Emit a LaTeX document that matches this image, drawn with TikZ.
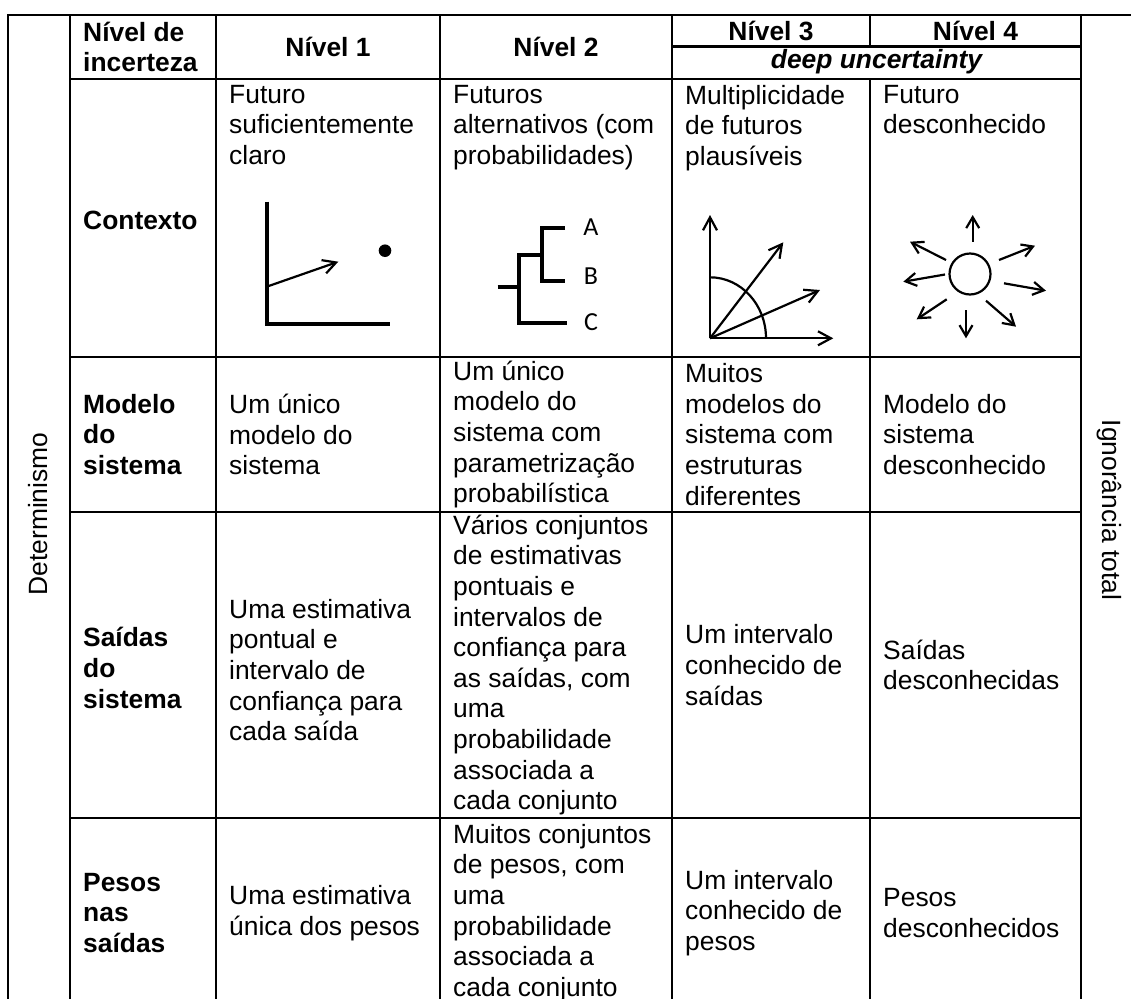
\documentclass[tikz,border=0pt]{standalone}
\usepackage{fontspec}
\setmainfont{Liberation Sans}
\newfontfamily\calfont{Carlito}
\usetikzlibrary{arrows.meta}
\begin{document}
\begin{tikzpicture}[x=1pt,y=-1pt,
  grid/.style={line width=2.6pt, line cap=rect},
  txt/.style={inner sep=0pt, align=left, font=\fontsize{26.4}{30.6}\selectfont},
  hdr/.style={inner sep=0pt, align=left, font=\fontsize{26.4}{30.6}\selectfont\bfseries},
  deep/.style={inner sep=0pt, font=\fontsize{26.4}{30.6}\selectfont\bfseries\itshape},
  lbl/.style={inner sep=0pt, font=\fontsize{26}{30}\selectfont\calfont},
  thickax/.style={line width=4pt},
  thinarr/.style={line width=2.2pt, -{Straight Barb[length=13pt,width=14pt]}},
  sunarr/.style={line width=2.2pt, -{Straight Barb[length=11pt,width=13pt]}}
]
\useasboundingbox (0,0) rectangle (1131,998);
\clip (0,0) rectangle (1131,998);

% ---- table grid ----
\draw[grid] (8,15) -- (1131,15);
\foreach \cx in {8,70,216,440,672,1081} {\draw[grid] (\cx,15) -- (\cx,1010);}
\draw[grid] (870,15) -- (870,46.5);
\draw[grid] (870,79) -- (870,1010);
\draw[grid] (672,46.5) -- (1081,46.5);
\foreach \ry in {79,357,512,818} {\draw[grid] (70,\ry) -- (1081,\ry);}

% ---- side labels ----
\node[txt, rotate=90] (determ) at (38,514) {Determinismo};
\node[txt, rotate=-90] (ignor) at (1109,510) {Ignorância total};

% ---- header ----
\node[hdr, anchor=west] (h0) at (83,47) {Nível de\\incerteza};
\node[hdr] (h1) at (328,47) {Nível 1};
\node[hdr] (h2) at (556,47) {Nível 2};
\node[hdr] (h3) at (771,31) {Nível 3};
\node[hdr] (h4) at (975.5,31) {Nível 4};
\node[deep] (hdeep) at (876.5,62) {deep uncertainty};

% ---- context row ----
\node[hdr, anchor=west] (r1) at (83,220) {Contexto};
\node[txt, anchor=north west] (c1) at (229,85) {Futuro\\suficientemente\\claro};
\node[txt, anchor=north west] (c2) at (453,85) {Futuros\\alternativos (com\\probabilidades)};
\node[txt, anchor=north west] (c3) at (685,85) {Multiplicidade\\de futuros\\plausíveis};
\node[txt, anchor=north west] (c4) at (883,85) {Futuro\\desconhecido};

% icon 1
\coordinate (i1top) at (266.7,201.7);
\coordinate (i1o) at (266.7,324);
\coordinate (i1r) at (390,324);
\draw[thickax, line join=miter] (i1top) -- (i1o) -- (i1r);
\coordinate (i1s) at (266.7,286.7);
\coordinate (i1e) at (338.3,261.7);
\draw[thinarr] (i1s) -- (i1e);
\fill (385,250.7) circle[radius=6.3pt];

% icon 2 (tree)
\coordinate (t0) at (497.7,287.3);
\coordinate (t1) at (519,287.3);
\coordinate (t1a) at (519,255);
\coordinate (t1b) at (519,322.7);
\coordinate (tc) at (566.7,322.7);
\coordinate (t2) at (542.3,255);
\coordinate (t2a) at (542.3,227.7);
\coordinate (t2b) at (542.3,281);
\coordinate (ta) at (565,227.7);
\coordinate (tb) at (565,281);
\draw[thickax] (t0) -- (t1);
\draw[thickax, line join=miter] (t2) -- (t1a) -- (t1b) -- (tc);
\draw[thickax, line join=miter] (ta) -- (t2a) -- (t2b) -- (tb);
\node[lbl] (la) at (591,226.7) {A};
\node[lbl] (lb) at (591,276.3) {B};
\node[lbl] (lc) at (591,321.7) {C};

% icon 3
\coordinate (o3) at (710,338.3);
\draw[thinarr] (o3) -- (710,215);
\draw[thinarr] (o3) -- (833.3,338.3);
\draw[thinarr] (o3) -- (783.3,242.3);
\draw[thinarr] (o3) -- (820,290);
\draw[line width=2.2pt] (710,277.3) arc[start angle=90, end angle=0, x radius=56pt, y radius=61pt];

% icon 4 (sun)
\node[circle, draw, line width=2.2pt, minimum size=41pt, inner sep=0pt] (sun) at (970,274) {};
\draw[sunarr] (972.7,241.7) -- (972.7,215);
\draw[sunarr] (946,260) -- (910,241.7);
\draw[sunarr] (945,274.5) -- (903.3,281.7);
\draw[sunarr] (946.7,299.3) -- (916.7,319.3);
\draw[sunarr] (966,310) -- (966,338.3);
\draw[sunarr] (986,300.7) -- (1016,326.7);
\draw[sunarr] (1004,283.3) -- (1046,290.7);
\draw[sunarr] (999,260) -- (1035,245.7);

% ---- modelo row ----
\node[hdr, anchor=west] (r2) at (83,434.5) {Modelo\\do\\sistema};
\node[txt, anchor=west] (m1) at (229,434.5) {Um único\\modelo do\\sistema};
\node[txt, anchor=west] (m2) at (453,434.5) {Um único\\modelo do\\sistema com\\parametrização\\probabilística};
\node[txt, anchor=west] (m3) at (685,434.5) {Muitos\\modelos do\\sistema com\\estruturas\\diferentes};
\node[txt, anchor=west] (m4) at (883,434.5) {Modelo do\\sistema\\desconhecido};

% ---- saidas row ----
\node[hdr, anchor=west] (r3) at (83,668) {Saídas\\do\\sistema};
\node[txt, anchor=west] (s1) at (229,670) {Uma estimativa\\pontual e\\intervalo de\\confiança para\\cada saída};
\node[txt, anchor=west] (s2) at (453,665) {Vários conjuntos\\de estimativas\\pontuais e\\intervalos de\\confiança para\\as saídas, com\\uma\\probabilidade\\associada a\\cada conjunto};
\node[txt, anchor=west] (s3) at (685,665) {Um intervalo\\conhecido de\\saídas};
\node[txt, anchor=west] (s4) at (883,665) {Saídas\\desconhecidas};

% ---- pesos row ----
\node[hdr, anchor=west] (r4) at (83,913) {Pesos\\nas\\saídas};
\node[txt, anchor=west] (p1) at (229,913) {Uma estimativa\\única dos pesos};
\node[txt, anchor=west] (p2) at (453,913) {Muitos conjuntos\\de pesos, com\\uma\\probabilidade\\associada a\\cada conjunto};
\node[txt, anchor=west] (p3) at (685,913) {Um intervalo\\conhecido de\\pesos};
\node[txt, anchor=west] (p4) at (883,913) {Pesos\\desconhecidos};
\end{tikzpicture}
\end{document}
